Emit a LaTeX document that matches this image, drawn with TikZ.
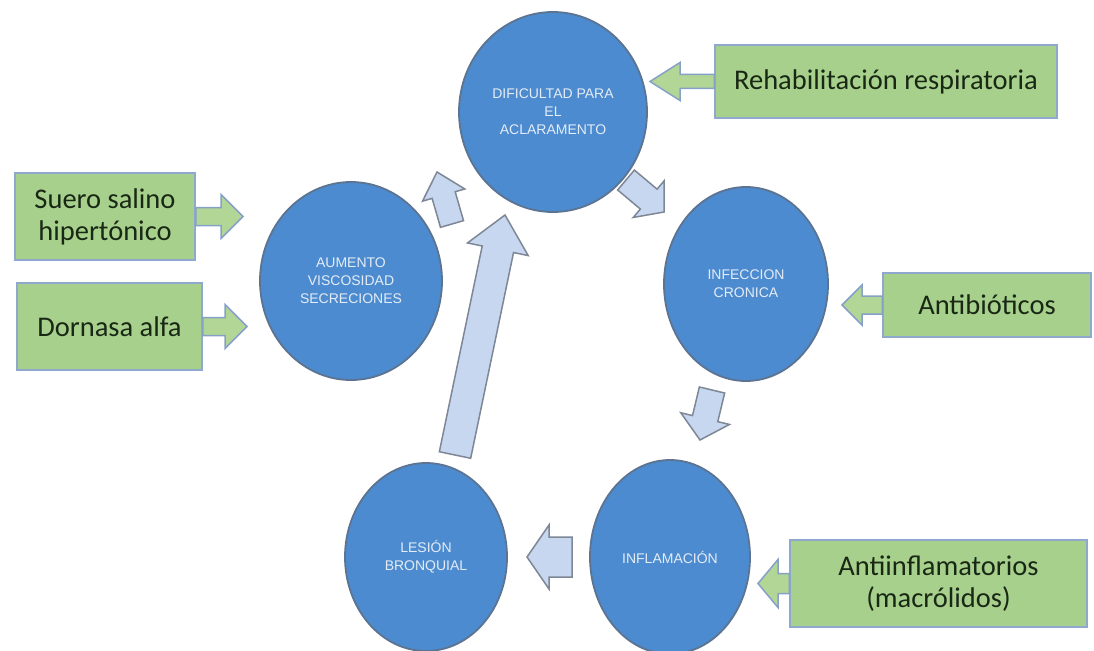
\documentclass[tikz,border=0pt]{standalone}
\usepackage{fontspec}
\setmainfont{Carlito}
\newfontfamily\arialf{Liberation Sans}
\usetikzlibrary{calc,shapes.geometric}
\definecolor{circfill}{RGB}{76,139,207}
\definecolor{circdraw}{RGB}{92,116,145}
\definecolor{circtext}{RGB}{228,236,246}
\definecolor{arrfill}{RGB}{200,215,240}
\definecolor{arrdraw}{RGB}{125,135,150}
\definecolor{boxfill}{RGB}{168,208,141}
\definecolor{boxdraw}{RGB}{143,168,205}
\definecolor{boxtext}{RGB}{25,40,20}
\definecolor{garrfill}{RGB}{178,214,150}
\definecolor{garrdraw}{RGB}{135,160,200}
% block arrow: #1 start, #2 tip, #3 shaft half width, #4 head half width, #5 head length, #6 style
\newcommand{\blockarr}[6]{%
  \coordinate (bah) at ($(#2)!#5!(#1)$);
  \path[#6] ($(#1)!#3!90:(#2)$) -- ($(bah)!#3!-90:(#1)$) -- ($(bah)!#4!-90:(#1)$) -- (#2)
     -- ($(bah)!#4!90:(#1)$) -- ($(bah)!#3!90:(#1)$) -- ($(#1)!#3!-90:(#2)$) -- cycle;
}
\begin{document}
\begin{tikzpicture}[x=1pt,y=-1pt,
  circ/.style={ellipse, fill=circfill, draw=circdraw, line width=1.8pt, text=circtext,
    font=\arialf\fontsize{14}{18}\selectfont, align=center, inner sep=0pt},
  gbox/.style={rectangle, fill=boxfill, draw=boxdraw, line width=1.5pt, text=boxtext,
    font=\fontsize{28.5}{32}\selectfont, align=center, inner sep=0pt},
  barr/.style={fill=arrfill, draw=arrdraw, line width=1.5pt, line join=miter},
  garr/.style={fill=garrfill, draw=garrdraw, line width=1.5pt, line join=miter}]
\useasboundingbox (0,0) rectangle (1094,650);
\fill[white] (0,0) rectangle (1094,650);

% circles
\node[circ, minimum width=188pt, minimum height=200pt] (dif) at (553,112) {DIFICULTAD PARA\\EL\\ACLARAMENTO};
\node[circ, minimum width=164pt, minimum height=194pt] (inf) at (746,284) {INFECCION\\CRONICA};
\node[circ, minimum width=182pt, minimum height=198pt] (aum) at (351,281) {AUMENTO\\VISCOSIDAD\\SECRECIONES};
\node[circ, minimum width=162pt, minimum height=188pt] (les) at (426,557) {LESIÓN\\BRONQUIAL};
\node[circ, minimum width=160pt, minimum height=194pt] (infl) at (670,557) {INFLAMACIÓN};

% cycle arrows
\coordinate (a1s) at (452,224); \coordinate (a1t) at (437,172);
\coordinate (a2s) at (626,180); \coordinate (a2t) at (664,212);
\coordinate (a3s) at (712,390); \coordinate (a3t) at (700,440);
\coordinate (a4s) at (572,557); \coordinate (a4t) at (527,557);
\coordinate (a5s) at (455,455); \coordinate (a5t) at (505,215);
\blockarr{a1s}{a1t}{12pt}{22pt}{24pt}{barr}
\blockarr{a2s}{a2t}{13pt}{24pt}{20pt}{barr}
\blockarr{a3s}{a3t}{13pt}{25pt}{22pt}{barr}
\blockarr{a4s}{a4t}{20pt}{32pt}{22pt}{barr}
\blockarr{a5s}{a5t}{16pt}{31pt}{35pt}{barr}

% treatment boxes
\coordinate (t1) at (650,81.5);
\coordinate (t2) at (243,216.5);
\coordinate (t3) at (247,326.5);
\coordinate (t4) at (842,305);
\coordinate (t5) at (758,583.5);
\node[gbox, minimum width=342pt, minimum height=73pt] (rehab) at (886,81.5) {Rehabilitación respiratoria};
\node[gbox, minimum width=180pt, minimum height=87pt] (suero) at (105,216.5) {Suero salino\\hipertónico};
\node[gbox, minimum width=185pt, minimum height=87pt] (dorn) at (109.5,326.5) {Dornasa alfa};
\node[gbox, minimum width=208pt, minimum height=64pt] (antib) at (987,305) {Antibióticos};
\node[gbox, minimum width=297pt, minimum height=87pt] (antii) at (938.5,583.5) {Antiinflamatorios\\(macrólidos)};

\blockarr{rehab.west}{t1}{7pt}{19pt}{30pt}{garr}
\blockarr{suero.east}{t2}{9pt}{22pt}{22pt}{garr}
\blockarr{dorn.east}{t3}{9pt}{22pt}{22pt}{garr}
\blockarr{antib.west}{t4}{9pt}{20pt}{20pt}{garr}
\blockarr{antii.west}{t5}{10pt}{24pt}{20pt}{garr}
\end{tikzpicture}
\end{document}
